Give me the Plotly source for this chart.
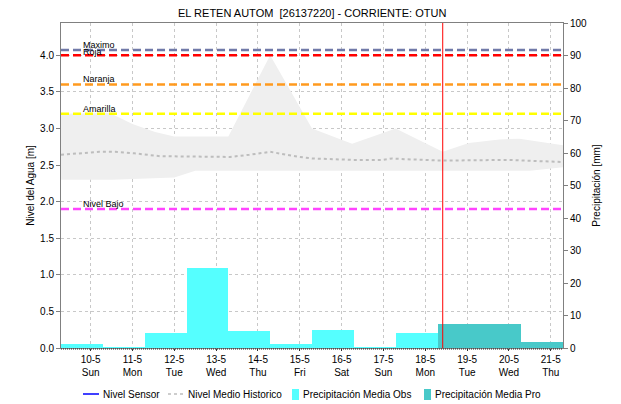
import plotly.graph_objects as go
from datetime import datetime, timedelta

# ---- data ----
day_ticks = ["2026-05-10", "2026-05-11", "2026-05-12", "2026-05-13", "2026-05-14", "2026-05-15",
             "2026-05-16", "2026-05-17", "2026-05-18", "2026-05-19", "2026-05-20", "2026-05-21"]
tick_labels = ["10-5<br>Sun", "11-5<br>Mon", "12-5<br>Tue", "13-5<br>Wed", "14-5<br>Thu", "15-5<br>Fri",
               "16-5<br>Sat", "17-5<br>Sun", "18-5<br>Mon", "19-5<br>Tue", "20-5<br>Wed", "21-5<br>Thu"]
level_ticks = [0.0, 0.5, 1.0, 1.5, 2.0, 2.5, 3.0, 3.5, 4.0]
level_tick_labels = ["0.0", "0.5", "1.0", "1.5", "2.0", "2.5", "3.0", "3.5", "4.0"]
precip_ticks = [0, 10, 20, 30, 40, 50, 60, 70, 80, 90, 100]

# historical envelope (m)
band_upper_t = ["2026-05-09 07:00", "2026-05-10 11:00", "2026-05-11 00:00", "2026-05-11 13:00",
                "2026-05-12 00:00", "2026-05-13 07:00", "2026-05-14 07:00", "2026-05-15 07:00",
                "2026-05-16 06:00", "2026-05-17 07:00", "2026-05-18 10:00", "2026-05-19 01:00",
                "2026-05-19 18:30", "2026-05-20 06:00", "2026-05-21 07:00"]
band_upper = [3.20, 3.21, 3.06, 2.95, 2.89, 2.89, 4.00, 3.00, 2.79, 3.00, 2.68, 2.80, 2.85, 2.86, 2.77]
band_lower_t = ["2026-05-09 07:00", "2026-05-10 12:00", "2026-05-12 00:00", "2026-05-12 12:00",
                "2026-05-20 12:00", "2026-05-21 07:00"]
band_lower = [2.30, 2.30, 2.33, 2.42, 2.42, 2.47]

# mean historical level (m)
mean_t = ["2026-05-09 07:00", "2026-05-10 05:00", "2026-05-10 14:00", "2026-05-11 01:00",
          "2026-05-11 16:00", "2026-05-12 15:00", "2026-05-13 08:00", "2026-05-13 19:00",
          "2026-05-14 07:00", "2026-05-15 00:00", "2026-05-15 07:00", "2026-05-16 06:00",
          "2026-05-17 00:00", "2026-05-17 05:00", "2026-05-17 12:00", "2026-05-18 10:00",
          "2026-05-20 00:00", "2026-05-21 07:00"]
mean_level = [2.64, 2.68, 2.68, 2.66, 2.62, 2.61, 2.61, 2.64, 2.68, 2.61, 2.59, 2.57,
              2.57, 2.59, 2.58, 2.56, 2.57, 2.54]

# daily precipitation (mm), days run 07:00 -> 07:00
obs_days = ["2026-05-09", "2026-05-10", "2026-05-11", "2026-05-12", "2026-05-13",
            "2026-05-14", "2026-05-15", "2026-05-16", "2026-05-17"]
obs_precip = [1.3, 0.2, 4.7, 24.5, 5.3, 1.3, 5.5, 0.3, 4.7]
pro_days = ["2026-05-18", "2026-05-19", "2026-05-20"]
pro_precip = [7.5, 7.5, 1.9]

# alert thresholds (m)
threshold_names = ["Maximo", "Roja", "Naranja", "Amarilla", "Nivel Bajo"]
threshold_values = [4.07, 4.0, 3.6, 3.2, 1.9]
threshold_colors = ["#7079a8", "#ff0000", "#ff9a1f", "#ffff00", "#ff44ff"]

legend_names = ["Nivel Sensor", "Nivel Medio Historico", "Precipitación Media Obs", "Precipitación Media Pro"]

now_time = "2026-05-18 10:00"
x_start, x_end = "2026-05-09 07:00", "2026-05-21 07:00"

FONT = "Liberation Sans, Arial, sans-serif"
SENSOR_COLOR = "#0000ff"
MEAN_COLOR = "#bdbdbd"
OBS_COLOR = "#55ffff"
PRO_COLOR = "#48c9c9"

# plot-area geometry in pixels (used to place the hand-built legend row)
W, H = 621, 404
ML, MR, MT, MB = 61, 58, 23, 56
PW, PH = W - ML - MR, H - MT - MB


def px_x(px):
    return (px - ML) / PW


def px_y(py):
    return (H - MB - py) / PH


def bar_centers(days):
    return [(datetime.fromisoformat(d) + timedelta(hours=19)).strftime("%Y-%m-%d %H:%M") for d in days]


DAY_MS = 86400000

fig = go.Figure()

# historical envelope
fig.add_trace(go.Scatter(x=band_lower_t, y=band_lower, mode="lines", line=dict(width=0, color="#efefef"),
                         showlegend=False, hoverinfo="skip"))
fig.add_trace(go.Scatter(x=band_upper_t, y=band_upper, mode="lines", line=dict(width=0, color="#efefef"),
                         fill="tonexty", fillcolor="#efefef", showlegend=False, hoverinfo="skip"))

# sensor level (no readings in window)
fig.add_trace(go.Scatter(x=[None], y=[None], mode="lines", name=legend_names[0],
                         line=dict(color=SENSOR_COLOR, width=1.5), showlegend=False))

fig.add_trace(go.Scatter(x=mean_t, y=mean_level, mode="lines", name=legend_names[1],
                         line=dict(color=MEAN_COLOR, width=2, dash="dot"), showlegend=False))

fig.add_trace(go.Bar(x=bar_centers(obs_days), y=obs_precip, width=[DAY_MS] * len(obs_days),
                     name=legend_names[2], marker=dict(color=OBS_COLOR, line=dict(width=0)),
                     yaxis="y2", showlegend=False))
fig.add_trace(go.Bar(x=bar_centers(pro_days), y=pro_precip, width=[DAY_MS] * len(pro_days),
                     name=legend_names[3], marker=dict(color=PRO_COLOR, line=dict(width=0)),
                     yaxis="y2", showlegend=False))

shapes = []
annotations = []
for name, val, col in zip(threshold_names, threshold_values, threshold_colors):
    shapes.append(dict(type="line", xref="paper", x0=0, x1=1, yref="y", y0=val, y1=val,
                       line=dict(color=col, width=2.5, dash="8px,4px"), layer="above"))
    annotations.append(dict(xref="paper", x=0.04, yref="y", y=val, text=name, showarrow=False,
                            xanchor="left", yanchor="middle", yshift=3 if name == "Roja" else 5,
                            font=dict(family=FONT, size=9, color="#000000")))

shapes.append(dict(type="line", xref="x", x0=now_time, x1=now_time, yref="paper", y0=0, y1=1,
                   line=dict(color="#ff0000", width=1), layer="above"))

# dotted baseline along the time axis
shapes.append(dict(type="line", xref="paper", yref="paper", x0=0, x1=1, y0=px_y(349), y1=px_y(349),
                   line=dict(color="#222222", width=1, dash="1px,1px"), layer="above"))

annotations.append(dict(xref="paper", yref="paper", x=0.5, y=1, yshift=10, xanchor="center",
                        yanchor="middle", showarrow=False,
                        text="EL RETEN AUTOM  [26137220] - CORRIENTE: OTUN",
                        font=dict(family=FONT, size=11, color="#000000")))

# legend row below the chart
leg_y = 394
shapes.append(dict(type="line", xref="paper", yref="paper", x0=px_x(83), x1=px_x(99),
                   y0=px_y(leg_y), y1=px_y(leg_y), line=dict(color=SENSOR_COLOR, width=1.5)))
shapes.append(dict(type="line", xref="paper", yref="paper", x0=px_x(168), x1=px_x(184),
                   y0=px_y(leg_y), y1=px_y(leg_y), line=dict(color=MEAN_COLOR, width=1.5, dash="3px,3px")))
shapes.append(dict(type="rect", xref="paper", yref="paper", x0=px_x(292), x1=px_x(299),
                   y0=px_y(400), y1=px_y(389), fillcolor=OBS_COLOR, line=dict(width=0)))
shapes.append(dict(type="rect", xref="paper", yref="paper", x0=px_x(424), x1=px_x(431),
                   y0=px_y(400), y1=px_y(389), fillcolor=PRO_COLOR, line=dict(width=0)))
for name, start in zip(legend_names, [101, 186, 301, 433]):
    annotations.append(dict(xref="paper", yref="paper", x=px_x(start), y=px_y(leg_y),
                            xanchor="left", yanchor="middle", showarrow=False, text=name,
                            font=dict(family=FONT, size=10, color="#000000")))

fig.update_layout(
    width=W, height=H,
    margin=dict(l=ML, r=MR, t=MT, b=MB, autoexpand=False),
    paper_bgcolor="white", plot_bgcolor="white",
    font=dict(family=FONT, size=10, color="#000000"),
    barmode="overlay",
    bargap=0,
    shapes=shapes,
    annotations=annotations,
    showlegend=False,
    xaxis=dict(type="date", range=[x_start, x_end], tickvals=day_ticks, ticktext=tick_labels,
               showgrid=True, gridcolor="#c8c8c8", griddash="dot", gridwidth=1,
               showline=True, linecolor="#808080", linewidth=1, mirror=True,
               ticks="outside", ticklen=2, tickcolor="#333333", tickfont=dict(family=FONT, size=10),
               zeroline=False),
    yaxis=dict(range=[0, 4.44], tickvals=level_ticks, ticktext=level_tick_labels,
               showgrid=True, gridcolor="#c8c8c8", griddash="dot", gridwidth=1,
               showline=True, linecolor="#808080", linewidth=1,
               ticks="outside", ticklen=4, tickcolor="#808080",
               zeroline=False,
               title=dict(text="Nivel del Agua [m]", font=dict(family=FONT, size=10), standoff=3)),
    yaxis2=dict(range=[0, 100], tickvals=precip_ticks, overlaying="y", side="right",
                showgrid=False, showline=True, linecolor="#808080", linewidth=1,
                ticks="outside", ticklen=4, tickcolor="#808080", zeroline=False,
                title=dict(text="Precipitación [mm]", font=dict(family=FONT, size=10), standoff=6)),
)

fig.write_html("out.html")
